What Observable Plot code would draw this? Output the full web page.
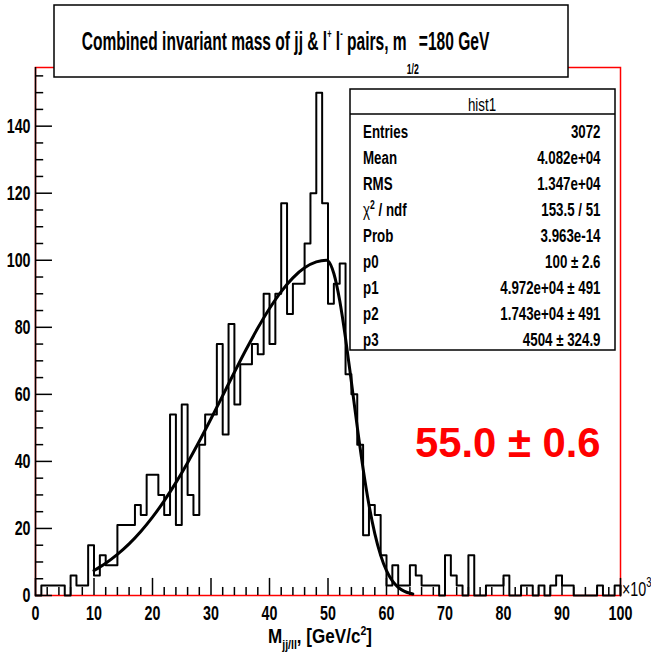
<!DOCTYPE html>
<html><head><meta charset="utf-8">
<script src="https://cdn.jsdelivr.net/npm/d3@7"></script>
<script src="https://cdn.jsdelivr.net/npm/@observablehq/plot@0.6"></script>
<style>body{margin:0;background:#fff;} svg{display:block}</style>
</head><body><div id="chart"></div>
<script>
// ---- data (x in units of 10^3 GeV/c^2, bin width 1) ----
const binLow = d3.range(0, 100);
const counts = [
  0, 3, 3, 3, 3, 0, 6, 3, 3, 15,
  6, 12, 9, 9, 21, 21, 21, 27, 24, 36,
  36, 30, 24, 54, 21, 57, 30, 24, 45, 54,
  54, 75, 48, 81, 57, 69, 69, 75, 72, 90,
  75, 90, 117, 84, 93, 93, 105, 120, 150, 117,
  87, 93, 99, 66, 60, 45, 18, 27, 24, 12,
  3, 9, 3, 3, 9, 6, 3, 3, 3, 0,
  12, 6, 3, 0, 12, 0, 0, 3, 3, 3,
  6, 0, 0, 3, 3, 0, 3, 0, 3, 6,
  3, 3, 0, 0, 0, 0, 3, 0, 0, 3
];
const fitX = [10,12,14,16,18,20,22,24,26,28,30,32,34,36,38,40,42,44,46,48,49.72,50,51,52,53,54,55,56,57,58,59,60,61,62,63,64,64.5];
const fitY = [7.45,9.62,12.25,15.39,19.09,23.37,28.24,33.67,39.62,46.0,52.73,59.64,66.58,73.36,79.76,85.6,90.66,94.76,97.75,99.51,100,99.81,96.04,87.97,76.71,63.67,50.3,37.83,27.08,18.45,11.97,7.39,4.34,2.43,1.29,0.66,0.46];
const yTicks = [0, 20, 40, 60, 80, 100, 120, 140];
const xTicks = [0, 10, 20, 30, 40, 50, 60, 70, 80, 90, 100];
const statLabels = ["Entries", "Mean", "RMS", "CHI2", "Prob", "p0", "p1", "p2", "p3"];
const statValues = ["3072", "4.082e+04", "1.347e+04", "153.5 / 51", "3.963e-14", "100 \u00b1 2.6", "4.972e+04 \u00b1 491", "1.743e+04 \u00b1 491", "4504 \u00b1 324.9"];
const histName = "hist1";
const resultText = "55.0 \u00b1 0.6";

const F = "'Liberation Sans', Arial, Helvetica, sans-serif";
const yMinor = d3.range(0, 157.5, 5).filter(v => v % 20 !== 0);
const xMinor = d3.range(0, 100.1, 2).filter(v => v % 10 !== 0);

const hist = [{x: 0, y: 0}, ...counts.map((c, i) => ({x: binLow[i], y: c})), {x: 100, y: counts[99]}, {x: 100, y: 0}];
const fit = fitX.map((x, i) => ({x, y: fitY[i]}));

const plot = Plot.plot({
  width: 651, height: 652,
  marginLeft: 35, marginRight: 31, marginTop: 67, marginBottom: 57,
  x: {domain: [0, 100], axis: null},
  y: {domain: [0, 157.5], axis: null},
  style: {background: "white"},
  marks: [
    Plot.frame({stroke: "#ff0000", strokeWidth: 1.5}),
    Plot.line(hist, {x: "x", y: "y", curve: "step-after", stroke: "black", strokeWidth: 2}),
    Plot.line(fit, {x: "x", y: "y", curve: "monotone-x", stroke: "black", strokeWidth: 3}),
    Plot.ruleX([0], {stroke: "black", strokeWidth: 1.5}),
    Plot.ruleY(yTicks, {x1: 0, x2: 2.9, stroke: "black", strokeWidth: 1.5}),
    Plot.ruleY(yMinor, {x1: 0, x2: 1.4, stroke: "black", strokeWidth: 1.5}),
    Plot.ruleX(xTicks, {y1: 0, y2: 5.1, stroke: "black", strokeWidth: 1.5}),
    Plot.ruleX(xMinor, {y1: 0, y2: 2.4, stroke: "black", strokeWidth: 1.5}),
    Plot.text(yTicks, {x: 0, y: d => d, text: d => String(d), textAnchor: "end", dx: -5, fontSize: 21, fontWeight: "bold", fontFamily: F, fill: "black"}),
    Plot.text(xTicks, {x: d => d, y: 0, text: d => String(d), dy: 18, fontSize: 21, fontWeight: "bold", fontFamily: F, fill: "black"})
  ]
});
document.getElementById("chart").append(plot);

function condense(el, k) {
  const t = el.getAttribute("transform") || "";
  const x = el.getAttribute("x"), y = el.getAttribute("y");
  const num = s => s != null && /^-?[\d.]+$/.test(s);
  let pre = "";
  if (num(x) || num(y)) {
    pre = ` translate(${num(x) ? +x : 0},${num(y) ? +y : 0})`;
    if (num(x)) el.setAttribute("x", 0);
    if (num(y)) el.setAttribute("y", 0);
  }
  el.setAttribute("transform", `${t}${pre} scale(${k},1)`);
}
const svg = d3.select(plot);
svg.selectAll("text").each(function() { condense(this, 0.68); });

const g = svg.append("g").attr("font-family", F).attr("fill", "black").attr("text-anchor", "start");
function fitText(sel, x, y, targetW) {
  const w = sel.node().getBBox().width;
  sel.attr("transform", `translate(${x},${y}) scale(${targetW / w},1)`);
}

// title box
g.append("rect").attr("x", 54).attr("y", 5).attr("width", 514).attr("height", 72)
  .attr("fill", "white").attr("stroke", "black").attr("stroke-width", 1.5);
const title = g.append("text").attr("font-size", 25).attr("font-weight", "bold").attr("text-anchor", "start");
title.append("tspan").text("Combined invariant mass of jj & l");
title.append("tspan").attr("dy", -12).attr("font-size", 12).text("+");
title.append("tspan").attr("dy", 12).text(" l");
title.append("tspan").attr("dy", -12).attr("font-size", 12).text("-");
title.append("tspan").attr("dy", 12).text(" pairs, m");
title.append("tspan").attr("dy", 25).attr("font-size", 14).text("1/2");
title.append("tspan").attr("dy", -25).text("=180 GeV");
fitText(title, 81.7, 49.5, 408);

// stats box
g.append("rect").attr("x", 350).attr("y", 89).attr("width", 265).attr("height", 261)
  .attr("fill", "white").attr("stroke", "black").attr("stroke-width", 1.5);
g.append("line").attr("x1", 350).attr("x2", 615).attr("y1", 114).attr("y2", 114)
  .attr("stroke", "black").attr("stroke-width", 1.5);
g.append("text").attr("font-size", 18.5).attr("text-anchor", "middle")
  .attr("transform", "translate(482,111) scale(0.72,1)").text(histName);
statLabels.forEach((lab, i) => {
  const yb = 137.5 + 26.1 * i;
  const t = g.append("text").attr("font-size", 18.5).attr("font-weight", "bold").attr("text-anchor", "start")
    .attr("transform", `translate(363,${yb}) scale(0.72,1)`);
  if (lab === "CHI2") {
    t.append("tspan").attr("font-weight", "normal").text("\u03c7");
    t.append("tspan").attr("dy", -7).attr("font-size", 12).text("2");
    t.append("tspan").attr("dy", 7).text(" / ndf");
  } else t.text(lab);
  g.append("text").attr("font-size", 18.5).attr("font-weight", "bold").attr("text-anchor", "end")
    .attr("transform", `translate(600.5,${yb}) scale(0.72,1)`).text(statValues[i]);
});

// fitted-mass result
const res = g.append("text").attr("font-size", 42).attr("font-weight", "bold").attr("fill", "#ff0000")
  .attr("text-anchor", "start").text(resultText);
fitText(res, 415, 456.7, 185.7);

// x10^3 exponent
const ex = g.append("text").attr("font-size", 21).attr("text-anchor", "start")
  .attr("transform", "translate(622,596) scale(0.68,1)");
ex.append("tspan").text("\u00d710");
ex.append("tspan").attr("dy", -9).attr("font-size", 14).text("3");

// x axis title
const xt = g.append("text").attr("font-size", 21).attr("font-weight", "bold").attr("text-anchor", "start");
xt.append("tspan").text("M");
xt.append("tspan").attr("dy", 6).attr("font-size", 13).text("jj/ll");
xt.append("tspan").attr("dy", -6).text(", [GeV/c");
xt.append("tspan").attr("dy", -8).attr("font-size", 13).text("2");
xt.append("tspan").attr("dy", 8).text("]");
fitText(xt, 268, 643, 104);
</script></body></html>
